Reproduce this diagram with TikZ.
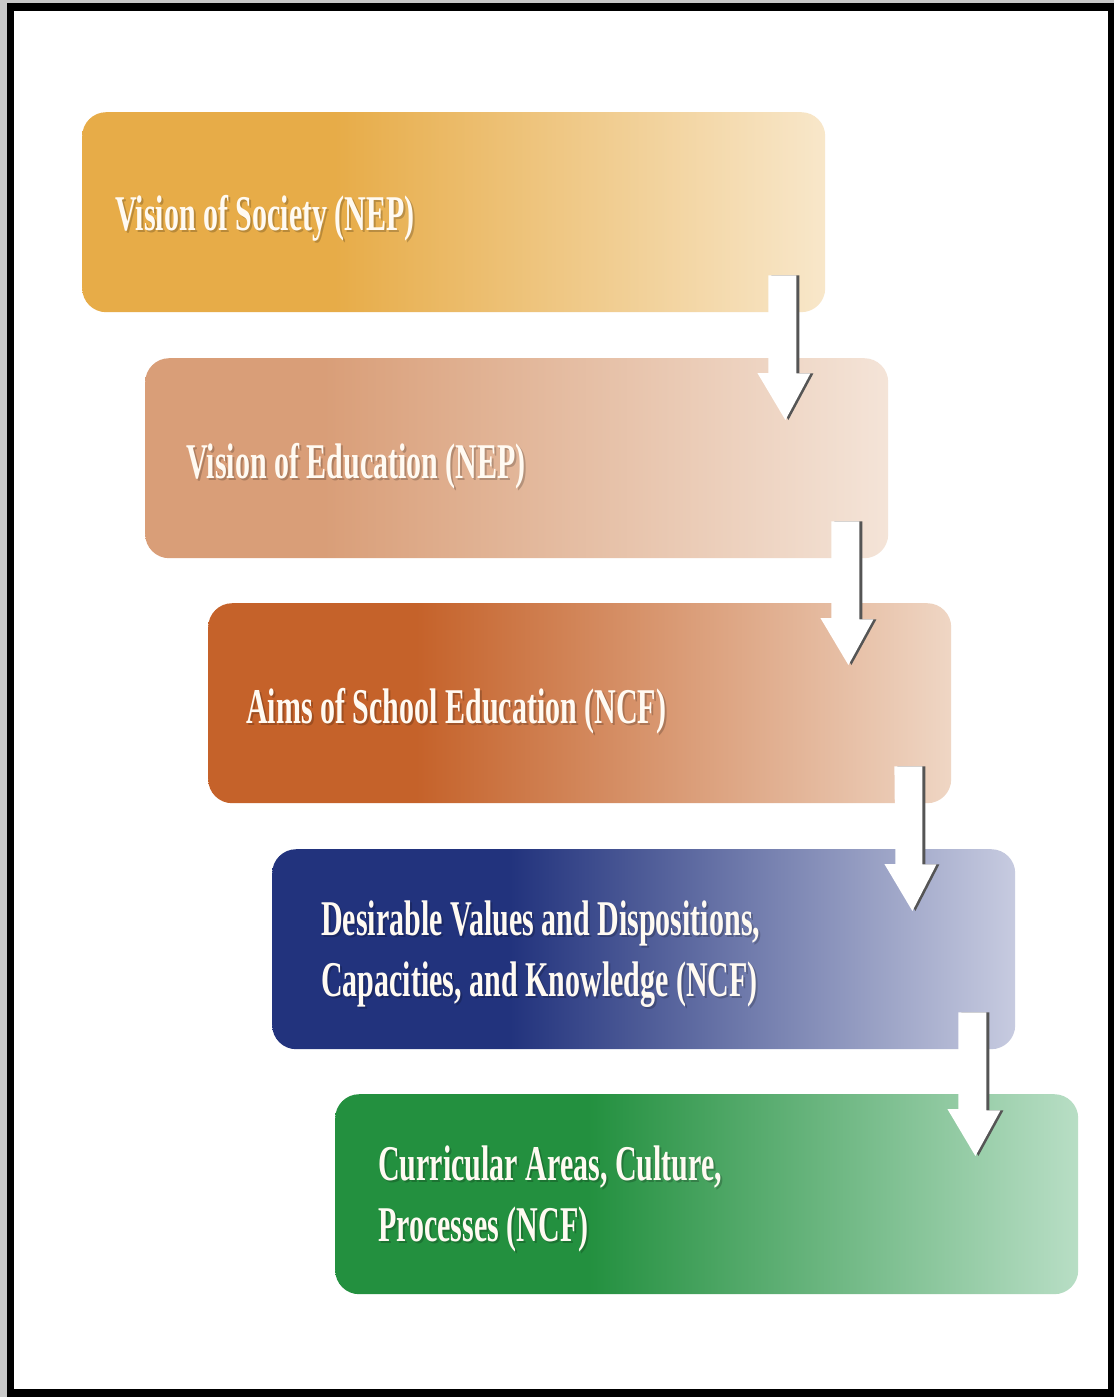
\documentclass[tikz,border=0pt]{standalone}
\usepackage{fontspec}
\usetikzlibrary{calc}
\newfontfamily\boxfont{Liberation Serif}[FakeStretch=0.6]
\definecolor{goldA}{HTML}{E7AC48}
\definecolor{goldB}{HTML}{F8E7CA}
\definecolor{tanA}{HTML}{D99E78}
\definecolor{tanB}{HTML}{F4E4D8}
\definecolor{rustA}{HTML}{C5622A}
\definecolor{rustB}{HTML}{EFD6C4}
\definecolor{navyA}{HTML}{22337D}
\definecolor{navyB}{HTML}{C7CBE0}
\definecolor{grnA}{HTML}{23903F}
\definecolor{grnB}{HTML}{B8DEC5}
\definecolor{marble}{HTML}{C9C9C9}
\definecolor{shadowgray}{HTML}{555555}
\definecolor{txtwhite}{HTML}{FFFAF2}
\pgfdeclarehorizontalshading{sgold}{100bp}{color(0bp)=(goldA); color(25bp)=(goldA); color(42bp)=(goldA); color(75bp)=(goldB); color(100bp)=(goldB)}
\pgfdeclarehorizontalshading{stan}{100bp}{color(0bp)=(tanA); color(25bp)=(tanA); color(37bp)=(tanA); color(75bp)=(tanB); color(100bp)=(tanB)}
\pgfdeclarehorizontalshading{srust}{100bp}{color(0bp)=(rustA); color(25bp)=(rustA); color(39bp)=(rustA); color(75bp)=(rustB); color(100bp)=(rustB)}
\pgfdeclarehorizontalshading{snavy}{100bp}{color(0bp)=(navyA); color(25bp)=(navyA); color(41bp)=(navyA); color(75bp)=(navyB); color(100bp)=(navyB)}
\pgfdeclarehorizontalshading{sgrn}{100bp}{color(0bp)=(grnA); color(25bp)=(grnA); color(42bp)=(grnA); color(75bp)=(grnB); color(100bp)=(grnB)}
\tikzset{
  stagebox/.style={rounded corners=24pt, minimum width=743pt, minimum height=200pt,
    anchor=north west, inner sep=0pt, draw=none},
  stagetext/.style={anchor=west, inner sep=0pt, align=left, text=txtwhite,
    font=\boxfont\bfseries\fontsize{50}{61}\selectfont},
  textshadow/.style={anchor=west, inner sep=0pt, align=left, text=black, opacity=0.2,
    font=\boxfont\bfseries\fontsize{50}{61}\selectfont},
  arrowbody/.style={fill=white, draw=none},
  arrowshade/.style={fill=shadowgray, draw=none},
}
\newcommand\flowarrow[2]{%
  \fill[arrowshade] ([shift={(-54,-37)}]#1.south east) -- ++(28,0) -- ++(0,98) -- ++(14,0)
     -- ($(#2.north east)+(-100,62)$) -- ++(-28,-47) -- ++(11,0) -- cycle;
  \fill[arrowbody] ([shift={(-57,-37)}]#1.south east) -- ++(28,0) -- ++(0,98) -- ++(14,0)
     -- ($(#2.north east)+(-103,62)$) -- ++(-28,-47) -- ++(11,0) -- cycle;
}
\begin{document}
\begin{tikzpicture}[x=1pt,y=-1pt]
% background and frame
\fill[marble] (0,0) rectangle (1114,1397);
\fill[black] (7,3) rectangle (1114,1397);
\fill[white] (14,11) rectangle (1108,1389);
\useasboundingbox (0,0) rectangle (1114,1397);
% boxes
\node[stagebox, shading=sgold] (b1) at (82,112) {};
\node[stagebox, shading=stan]  (b2) at (145,358) {};
\node[stagebox, shading=srust] (b3) at (208,603) {};
\node[stagebox, shading=snavy] (b4) at (272,849) {};
\node[stagebox, shading=sgrn]  (b5) at (335,1094) {};
% texts (shadow then white)
\node[textshadow] at ([shift={(35,8)}]b1.west) {Vision of Society (NEP)};
\node[stagetext] (t1) at ([shift={(33,6)}]b1.west) {Vision of Society (NEP)};
\node[textshadow] at ([shift={(43,10)}]b2.west) {Vision of Education (NEP)};
\node[stagetext] (t2) at ([shift={(41,8)}]b2.west) {Vision of Education (NEP)};
\node[textshadow] at ([shift={(40,10)}]b3.west) {Aims of School Education (NCF)};
\node[stagetext] (t3) at ([shift={(38,8)}]b3.west) {Aims of School Education (NCF)};
\node[textshadow] at ([shift={(51,7)}]b4.west) {Desirable Values and Dispositions,\\Capacities, and Knowledge (NCF)};
\node[stagetext] (t4) at ([shift={(49,5)}]b4.west) {Desirable Values and Dispositions,\\Capacities, and Knowledge (NCF)};
\node[textshadow] at ([shift={(45,7)}]b5.west) {Curricular Areas, Culture,\\Processes (NCF)};
\node[stagetext] (t5) at ([shift={(43,5)}]b5.west) {Curricular Areas, Culture,\\Processes (NCF)};
% arrows
\flowarrow{b1}{b2}
\flowarrow{b2}{b3}
\flowarrow{b3}{b4}
\flowarrow{b4}{b5}
\end{tikzpicture}
\end{document}
